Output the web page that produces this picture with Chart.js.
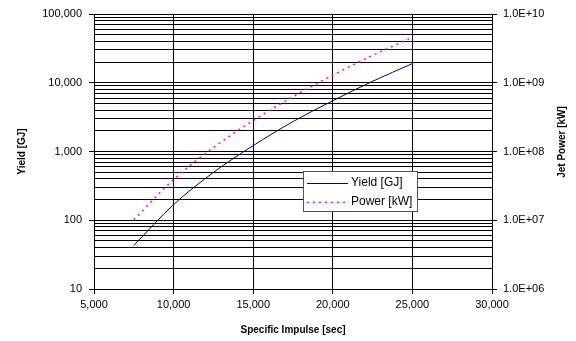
<!DOCTYPE html>
<html>
<head>
<meta charset="utf-8">
<script src="https://cdn.jsdelivr.net/npm/chart.js@4/dist/chart.umd.min.js"></script>
<style>
  body { margin: 0; background: #fff; }
</style>
</head>
<body>
<canvas id="chart" width="576" height="341"></canvas>
<script>
'use strict';
// values
const impulse = [7500, 10000, 12500, 15000, 17500, 20000, 22500, 25000];
const yieldGJ = [43, 169, 496, 1220, 2720, 5480, 10500, 19000];
const powerKW = [1.02e7, 3.9e7, 1.14e8, 2.81e8, 6.27e8, 1.29e9, 2.5e9, 4.56e9];
const xTicks = [5000, 10000, 15000, 20000, 25000, 30000];
const yieldDecades = [10, 100, 1000, 10000, 100000];
const powerDecades = [1e6, 1e7, 1e8, 1e9, 1e10];

const FONT = 'Liberation Sans, Arial, sans-serif';

// every 1..9 step inside each decade, for the log grid
function logSteps(decades) {
  let out = [];
  for (let i = 0; i < decades.length - 1; i++) {
    for (let m = 1; m < 10; m++) out.push(m * decades[i]);
  }
  out.push(decades[decades.length - 1]);
  return out;
}
const yieldSteps = logSteps(yieldDecades);
const powerSteps = logSteps(powerDecades);

function isDecade(v) {
  const l = Math.log10(v);
  return Math.abs(l - Math.round(l)) < 1e-9;
}
function sciLabel(v) {
  const e = Math.round(Math.log10(v));
  return '1.0E+' + (e < 10 ? '0' + e : e);
}

const extras = {
  id: 'extras',
  afterDraw(chart) {
    const ctx = chart.ctx;
    ctx.save();
    // right axis title, reads bottom to top
    ctx.translate(562, 142);
    ctx.rotate(-Math.PI / 2);
    ctx.font = 'bold 10px ' + FONT;
    ctx.fillStyle = '#000';
    ctx.textAlign = 'center';
    ctx.textBaseline = 'middle';
    ctx.fillText('Jet Power [kW]', 0, 0);
    ctx.restore();

    // legend box
    ctx.save();
    ctx.fillStyle = '#fff';
    ctx.fillRect(303, 171, 114, 41);
    ctx.strokeStyle = '#555';
    ctx.lineWidth = 1;
    ctx.strokeRect(303.5, 171.5, 114, 40);
    ctx.beginPath();
    ctx.strokeStyle = '#000080';
    ctx.moveTo(307, 183.5);
    ctx.lineTo(348, 183.5);
    ctx.stroke();
    ctx.beginPath();
    ctx.strokeStyle = '#ff00ff';
    ctx.lineWidth = 1.5;
    ctx.setLineDash([2, 4]);
    ctx.moveTo(307, 202.5);
    ctx.lineTo(348, 202.5);
    ctx.stroke();
    ctx.setLineDash([]);
    ctx.font = '12px ' + FONT;
    ctx.fillStyle = '#000';
    ctx.textBaseline = 'middle';
    ctx.fillText('Yield [GJ]', 351, 183);
    ctx.fillText('Power [kW]', 351, 202);
    ctx.restore();
  }
};

new Chart(document.getElementById('chart'), {
  type: 'line',
  data: {
    datasets: [{
      label: 'Yield [GJ]',
      data: impulse.map((x, i) => ({ x: x, y: yieldGJ[i] })),
      yAxisID: 'y',
      borderColor: '#000080',
      borderWidth: 1,
      pointRadius: 0,
      cubicInterpolationMode: 'monotone',
      fill: false
    }, {
      label: 'Power [kW]',
      data: impulse.map((x, i) => ({ x: x, y: powerKW[i] })),
      yAxisID: 'y1',
      borderColor: '#ff00ff',
      borderWidth: 1.5,
      borderDash: [2, 4],
      pointRadius: 0,
      cubicInterpolationMode: 'monotone',
      fill: false
    }]
  },
  options: {
    responsive: false,
    animation: false,
    layout: { padding: { top: 14, left: 0, right: 0, bottom: 0 } },
    plugins: {
      legend: { display: false },
      tooltip: { enabled: false }
    },
    scales: {
      x: {
        type: 'linear',
        min: 5000,
        max: 30000,
        afterBuildTicks: scale => { scale.ticks = xTicks.map(v => ({ value: v })); },
        afterFit: scale => { scale.height = 52; },
        ticks: {
          padding: 4,
          color: '#000',
          font: { family: FONT, size: 11 },
          callback: v => v.toLocaleString('en-US')
        },
        grid: { color: '#000', tickLength: 5, tickColor: '#000' },
        border: { color: '#000' },
        title: {
          display: true,
          text: 'Specific Impulse [sec]',
          color: '#000',
          font: { family: FONT, size: 10, weight: 'bold' },
          padding: { top: 0, bottom: 5 }
        }
      },
      y: {
        type: 'logarithmic',
        position: 'left',
        min: 10,
        max: 100000,
        afterBuildTicks: scale => { scale.ticks = yieldSteps.map(v => ({ value: v })); },
        afterFit: scale => { scale.width = 94; },
        ticks: {
          autoSkip: false,
          padding: 7,
          color: '#000',
          font: { family: FONT, size: 11 },
          callback: v => isDecade(v) ? v.toLocaleString('en-US') : ''
        },
        grid: {
          color: '#000',
          tickLength: 5,
          tickColor: c => (c.tick && isDecade(c.tick.value)) ? '#000' : 'rgba(0,0,0,0)'
        },
        border: { color: '#000' },
        title: {
          display: true,
          text: 'Yield [GJ]',
          color: '#000',
          font: { family: FONT, size: 10, weight: 'bold' },
          padding: { top: 16, bottom: 0 }
        }
      },
      y1: {
        type: 'logarithmic',
        position: 'right',
        min: 1e6,
        max: 1e10,
        afterBuildTicks: scale => { scale.ticks = powerSteps.map(v => ({ value: v })); },
        afterFit: scale => { scale.width = 84; },
        ticks: {
          autoSkip: false,
          padding: 6,
          color: '#000',
          font: { family: FONT, size: 11 },
          callback: v => isDecade(v) ? sciLabel(v) : ''
        },
        grid: {
          drawOnChartArea: false,
          tickLength: 5,
          tickColor: c => (c.tick && isDecade(c.tick.value)) ? '#000' : 'rgba(0,0,0,0)'
        },
        border: { color: '#000' }
      }
    }
  },
  plugins: [extras]
});
</script>
</body>
</html>
